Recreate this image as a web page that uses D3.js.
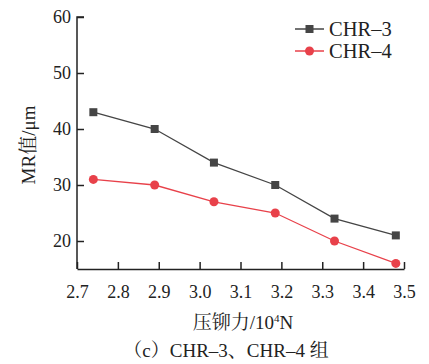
<!DOCTYPE html>
<html>
<head>
<meta charset="utf-8">
<script src="https://cdn.jsdelivr.net/npm/d3@7/dist/d3.min.js"></script>
<style>
  html, body { margin: 0; padding: 0; background: #fff; }
  svg { display: block; }
</style>
</head>
<body>
<svg id="chart" width="429" height="364"></svg>
<script>
// Riveting force (10^4 N) and measured MR values (μm)
const force = [2.74, 2.89, 3.035, 3.185, 3.33, 3.48];
const chr3 = [43, 40, 34, 30, 24, 21];
const chr4 = [31, 30, 27, 25, 20, 16];
const seriesNames = ["CHR\u20133", "CHR\u20134"];
const xTicks = [2.7, 2.8, 2.9, 3.0, 3.1, 3.2, 3.3, 3.4, 3.5];
const yTicks = [20, 30, 40, 50, 60];

const FONT = "'Liberation Serif', 'Noto Serif CJK SC', serif";
const INK = "#222";

const svg = d3.select("#chart");
const plotL = 77, plotR = 404, plotT = 17, plotB = 269;

const x = d3.scaleLinear().domain([2.7, 3.5]).range([plotL, plotR]);
const y = d3.scaleLinear().domain([15, 60]).range([plotB, plotT]);

// axes with inward ticks
const xAxis = d3.axisBottom(x).tickValues(xTicks).tickFormat(d3.format(".1f"))
  .tickSizeInner(-7).tickSizeOuter(0).tickPadding(16);
const yAxis = d3.axisLeft(y).tickValues(yTicks).tickFormat(d3.format("d"))
  .tickSizeInner(-7).tickSizeOuter(0).tickPadding(6);

const gx = svg.append("g").attr("transform", `translate(0,${plotB})`).call(xAxis);
const gy = svg.append("g").attr("transform", `translate(${plotL},0)`).call(yAxis);
[gx, gy].forEach(g => {
  g.attr("font-family", null).attr("font-size", null);
  g.select(".domain").attr("stroke", INK).attr("stroke-width", 1.5);
  g.selectAll(".tick line").attr("stroke", INK).attr("stroke-width", 1.5);
  g.selectAll(".tick text").style("font-family", FONT).style("font-size", "18px")
    .attr("fill", INK);
});
// top end of y axis has a short cap to the right
gy.select(".domain").attr("d", `M0,${plotB}V${plotT}H7`);

const series = [
  { name: seriesNames[0], values: chr3, color: "#454545", shape: "square" },
  { name: seriesNames[1], values: chr4, color: "#e8414a", shape: "circle" }
];

const line = d3.line().x((d, i) => x(force[i])).y(d => y(d));

function marker(g, shape, color, cx, cy) {
  if (shape === "square") {
    g.append("rect").attr("x", cx - 4).attr("y", cy - 4)
      .attr("width", 8).attr("height", 8).attr("fill", color);
  } else {
    g.append("circle").attr("cx", cx).attr("cy", cy).attr("r", 4.5).attr("fill", color);
  }
}

series.forEach(s => {
  const g = svg.append("g");
  g.append("path").datum(s.values).attr("d", line)
    .attr("fill", "none").attr("stroke", s.color).attr("stroke-width", 1.3);
  s.values.forEach((v, i) => marker(g, s.shape, s.color, x(force[i]), y(v)));
});

function label(sel, size) {
  return sel.style("font-family", FONT).style("font-size", size + "px").attr("fill", INK);
}

// legend
series.forEach((s, i) => {
  const ly = 29 + i * 22;
  const g = svg.append("g");
  g.append("line").attr("x1", 295).attr("x2", 324).attr("y1", ly).attr("y2", ly)
    .attr("stroke", s.color).attr("stroke-width", 1.5);
  marker(g, s.shape, s.color, 309.5, ly);
  label(g.append("text").attr("x", 329).attr("y", ly + 7), 20.5).text(s.name);
});

// axis titles
label(svg.append("text").attr("transform", "translate(35,145) rotate(-90)")
  .attr("text-anchor", "middle"), 19).text("MR值/μm");

const xt = label(svg.append("text").attr("x", 243).attr("y", 329)
  .attr("text-anchor", "middle"), 19);
xt.append("tspan").text("压铆力/10");
xt.append("tspan").style("font-size", "11px").attr("dy", -7).text("4");
xt.append("tspan").attr("dy", 7).text("N");

// panel caption
label(svg.append("text").attr("x", 226).attr("y", 357)
  .attr("text-anchor", "middle"), 19)
  .text("（c）CHR\u20133、CHR\u20134 组");
</script>
</body>
</html>
